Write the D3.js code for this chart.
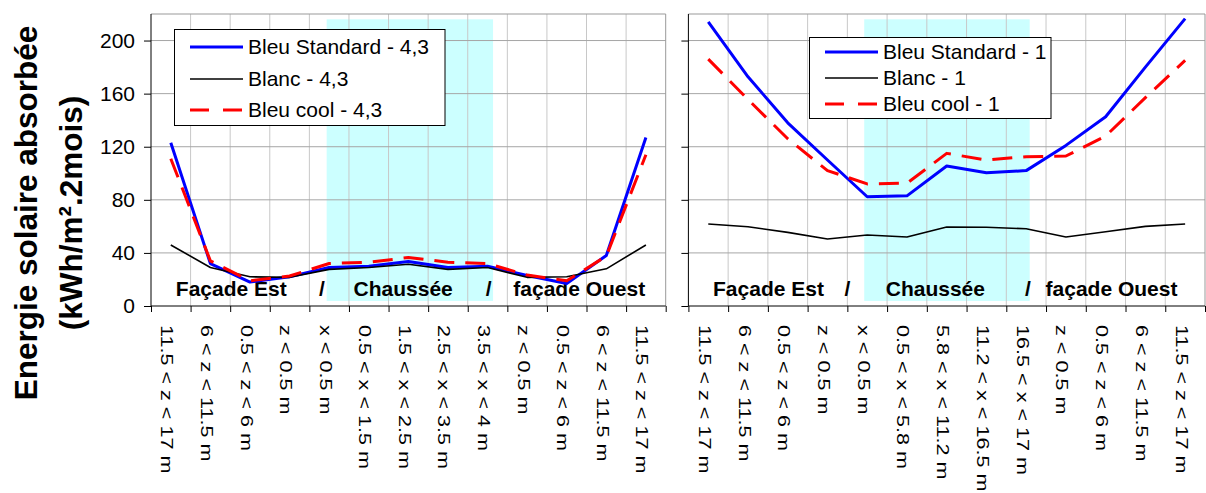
<!DOCTYPE html>
<html lang="fr">
<head>
<meta charset="UTF-8">
<title>Energie solaire absorbée</title>
<script src="https://d3js.org/d3.v7.min.js"></script>
<style>
    body { margin: 0; background: #fff; }
    svg { display: block; font-family: "Liberation Sans", Arial, sans-serif; }
</style>
</head>
<body>
<svg width="1206" height="493"></svg>
<script>
// categories (position along facade / road)
const catsLeft = ["11.5 < z < 17 m", "6 < z < 11.5 m", "0.5 < z < 6 m", "z < 0.5 m", "x < 0.5 m",
    "0.5 < x < 1.5 m", "1.5 < x < 2.5 m", "2.5 < x < 3.5 m", "3.5 < x < 4 m", "z < 0.5 m",
    "0.5 < z < 6 m", "6 < z < 11.5 m", "11.5 < z < 17 m"];
const catsRight = ["11.5 < z < 17 m", "6 < z < 11.5 m", "0.5 < z < 6 m", "z < 0.5 m", "x < 0.5 m",
    "0.5 < x < 5.8 m", "5.8 < x < 11.2 m", "11.2 < x < 16.5 m", "16.5 < x < 17 m", "z < 0.5 m",
    "0.5 < z < 6 m", "6 < z < 11.5 m", "11.5 < z < 17 m"];

// rapport H/W = 4,3
const bleuStd43 = [123, 32, 18, 22, 29, 30, 33.5, 29, 30, 23, 17, 38, 127];
const blanc43 = [46, 29, 22, 21.6, 27.6, 29, 31.5, 27.6, 29, 21.6, 22, 28, 46];
const bleuCool43 = [111, 34, 19, 22.6, 32, 33, 36.5, 33, 32, 23.3, 19, 37.6, 114];

// rapport H/W = 1
const bleuStd1 = [214, 172.7, 138, 110, 82.3, 83, 105.5, 100.4, 102, 121, 142.6, 180, 216.5];
const blanc1 = [61.8, 59.7, 55.5, 50.5, 53.5, 52, 59.5, 59.3, 58.2, 52, 56, 60, 61.8];
const bleuCool1 = [186, 155.6, 126, 102, 92, 92.5, 115, 110, 112.5, 113, 128, 157, 185];

const yTicks = [0, 40, 80, 120, 160, 200];
const notes = ["Façade Est", "/", "Chaussée", "/", "façade Ouest"];

const styles = {
    bleu: { color: "#0000ff", width: 3, dash: null },
    blanc: { color: "#000000", width: 1.6, dash: null },
    cool: { color: "#ff0000", width: 3, dash: "20,11" }
};

const panels = [
    {
        x0: 151, x1: 665.7, cats: catsLeft, yLabels: true,
        series: [
            { name: "Bleu Standard - 4,3", values: bleuStd43, style: styles.bleu },
            { name: "Blanc - 4,3", values: blanc43, style: styles.blanc },
            { name: "Bleu cool - 4,3", values: bleuCool43, style: styles.cool }
        ],
        legend: { x: 174.5, y: 29.5, w: 270.5, h: 96, rows: [17.5, 49.5, 80.5] },
        notePos: [0.156, 0.332, 0.49, 0.656, 0.832],
        shade: [-2.5, 5.5]
    },
    {
        x0: 688.4, x1: 1205, cats: catsRight, yLabels: false,
        series: [
            { name: "Bleu Standard - 1", values: bleuStd1, style: styles.bleu },
            { name: "Blanc - 1", values: blanc1, style: styles.blanc },
            { name: "Bleu cool - 1", values: bleuCool1, style: styles.cool }
        ],
        legend: { x: 809.5, y: 37.5, w: 241.5, h: 81, rows: [14.5, 40.5, 66.5] },
        notePos: [0.155, 0.308, 0.478, 0.657, 0.819],
        shade: [-3, 3.5]
    }
];

const svg = d3.select("svg");
const yTop = 14, yBottom = 306;
const y = d3.scaleLinear().domain([0, 220]).range([yBottom, yTop]);

panels.forEach(p => {
    const g = svg.append("g");
    const x = d3.scaleBand().domain(d3.range(p.cats.length)).range([p.x0, p.x1]);
    const cx = i => x(i) + x.bandwidth() / 2;
    const xEdge = d3.scaleLinear().domain([0, p.cats.length]).range([p.x0, p.x1]);

    // shaded road zone
    g.append("rect")
        .attr("x", cx(4) + p.shade[0])
        .attr("y", y(216))
        .attr("width", cx(8) + p.shade[1] - cx(4) - p.shade[0])
        .attr("height", y(3.8) - y(216))
        .attr("fill", "#ccffff");

    // grid
    g.append("g").selectAll("line")
        .data(d3.range(1, p.cats.length))
        .join("line")
        .attr("x1", d => xEdge(d)).attr("x2", d => xEdge(d))
        .attr("y1", yTop).attr("y2", yBottom)
        .attr("stroke", "#c8c8c8").attr("stroke-width", 1);
    g.append("g").selectAll("line")
        .data(yTicks.slice(1))
        .join("line")
        .attr("x1", p.x0).attr("x2", p.x1)
        .attr("y1", d => y(d)).attr("y2", d => y(d))
        .attr("stroke", "#a6a6a6").attr("stroke-width", 1);

    // plot border (top/right)
    g.append("path")
        .attr("d", `M${p.x0},${yTop}H${p.x1}V${yBottom}`)
        .attr("fill", "none").attr("stroke", "#999").attr("stroke-width", 1);

    // axes
    const yAxis = d3.axisLeft(y).tickValues(yTicks).tickSize(7).tickPadding(9)
        .tickFormat(p.yLabels ? d3.format("d") : "");
    g.append("g").attr("transform", `translate(${p.x0},0)`).call(yAxis)
        .call(a => a.select(".domain").attr("d", `M0,${yTop}V${yBottom}`))
        .call(a => a.selectAll("text").attr("font-size", 21).attr("font-family", null).attr("fill", "#000"));

    const xAxis = d3.axisBottom(xEdge).tickValues(d3.range(p.cats.length + 1)).tickSize(6).tickFormat("");
    g.append("g").attr("transform", `translate(0,${yBottom})`).call(xAxis)
        .call(a => a.select(".domain").attr("d", `M${p.x0},0H${p.x1}`));

    // category labels, rotated
    g.append("g").selectAll("text")
        .data(p.cats)
        .join("text")
        .attr("transform", (d, i) => `translate(${cx(i) - 4},325) rotate(90) scale(1.35,1)`)
        .attr("dominant-baseline", "central")
        .attr("font-size", 16)
        .text(d => d);

    // zone notes
    g.append("g").selectAll("text")
        .data(notes)
        .join("text")
        .attr("x", (d, i) => p.x0 + p.notePos[i] * (p.x1 - p.x0))
        .attr("y", 296)
        .attr("text-anchor", "middle")
        .attr("font-size", 21).attr("font-weight", "bold")
        .text(d => d);

    // series
    const line = d3.line().x((d, i) => cx(i)).y(d => y(d));
    g.append("g").selectAll("path")
        .data(p.series)
        .join("path")
        .attr("d", s => line(s.values))
        .attr("fill", "none")
        .attr("stroke", s => s.style.color)
        .attr("stroke-width", s => s.style.width)
        .attr("stroke-dasharray", s => s.style.dash)
        .attr("stroke-linejoin", "round");

    // legend
    const L = p.legend;
    const lg = g.append("g").attr("transform", `translate(${L.x},${L.y})`);
    lg.append("rect").attr("width", L.w).attr("height", L.h)
        .attr("fill", "#fff").attr("stroke", "#000").attr("stroke-width", 1);
    const rows = lg.selectAll("g.row").data(p.series).join("g")
        .attr("class", "row")
        .attr("transform", (d, i) => `translate(0,${L.rows[i]})`);
    rows.append("line")
        .attr("x1", 15.5).attr("x2", 68.5)
        .attr("stroke", s => s.style.color)
        .attr("stroke-width", s => s.style.width)
        .attr("stroke-dasharray", s => s.style.dash ? "19,14" : null);
    rows.append("text")
        .attr("x", 73.5).attr("dy", "0.35em")
        .attr("font-size", 21)
        .text(s => s.name);
});

// y axis title
const title = svg.append("g").attr("transform", "translate(0,213) rotate(-90)")
    .attr("text-anchor", "middle").attr("font-weight", "bold").attr("font-size", 31.5);
title.append("text").attr("x", 0).attr("y", 37).text("Energie solaire absorbée");
title.append("text").attr("x", 0).attr("y", 82).text("(kWh/m².2mois)");
</script>
</body>
</html>
